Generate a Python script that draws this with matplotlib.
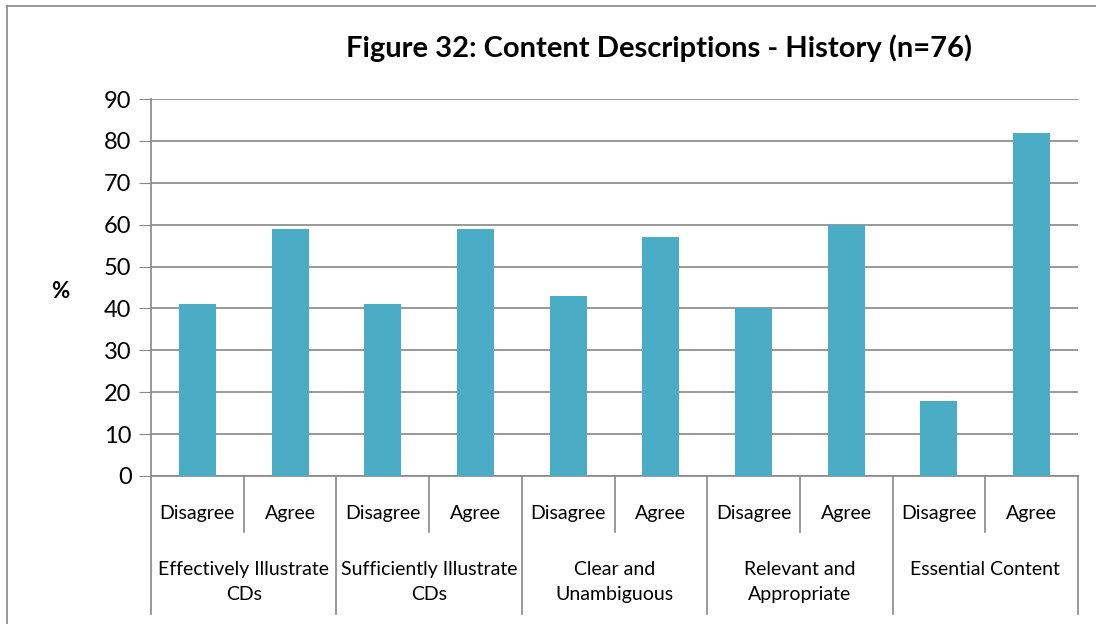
import matplotlib.pyplot as plt
from matplotlib.lines import Line2D

plt.rcParams['font.family'] = ['Lato', 'DejaVu Sans']

groups = ["Effectively Illustrate\nCDs", "Sufficiently Illustrate\nCDs",
          "Clear and\nUnambiguous", "Relevant and\nAppropriate", "Essential Content"]
answers = ["Disagree", "Agree"]
values = [41, 59, 41, 59, 43, 57, 40, 60, 18, 82]

bar_color = "#4BACC6"
grid_color = "#888888"

fig = plt.figure(figsize=(10.96, 6.24), dpi=100)
ax = fig.add_axes([151 / 1096, 1 - 476 / 624, 927 / 1096, 377 / 624])

x = list(range(len(values)))
ax.bar(x, values, width=0.4, color=bar_color, zorder=3)
ax.set_xlim(-0.5, len(values) - 0.5)
ax.set_ylim(0, 90)
ax.set_yticks(range(0, 91, 10))
ax.tick_params(axis="y", length=9, color=grid_color, labelsize=17, pad=5)
ax.tick_params(axis="x", length=0, labelbottom=False)
ax.grid(axis="y", color=grid_color, lw=1.2, zorder=0)
for s in ["top", "right"]:
    ax.spines[s].set_visible(False)
for s in ["left", "bottom"]:
    ax.spines[s].set_color(grid_color)
    ax.spines[s].set_linewidth(1.2)

fig.text(60 / 1096, 1 - 292 / 624, "%", ha="center", va="center",
         fontsize=16, fontweight="bold")

# two-level category axis
tr = ax.get_xaxis_transform()
inner_y = -(532 - 476) / 377
outer_y = -(614 - 476) / 377
for i, v in enumerate(values):
    ax.text(i, -(513 - 476) / 377, answers[i % 2], transform=tr,
            ha="center", va="center", fontsize=14)
for g, name in enumerate(groups):
    ax.text(2 * g + 0.5, -(561 - 476) / 377, name, transform=tr,
            ha="center", va="top", fontsize=14, linespacing=1.6)
    ax.add_line(Line2D([2 * g + 0.5] * 2, [0, inner_y], transform=tr,
                       color=grid_color, lw=1.2, clip_on=False))
for b in range(len(groups) + 1):
    ax.add_line(Line2D([2 * b - 0.5] * 2, [0, outer_y], transform=tr,
                       color=grid_color, lw=1.2, clip_on=False))

fig.text(659 / 1096, 1 - 48 / 624, "Figure 32: Content Descriptions - History (n=76)",
         ha="center", va="center", fontsize=21, fontweight="bold")

# chart area border (top and left edges visible)
fig.add_artist(Line2D([7 / 1096, 1], [1 - 6 / 624] * 2, transform=fig.transFigure,
                      color=grid_color, lw=1.2))
fig.add_artist(Line2D([7 / 1096] * 2, [0, 1 - 6 / 624], transform=fig.transFigure,
                      color=grid_color, lw=1.2))

fig.savefig("out.png", dpi=100)
